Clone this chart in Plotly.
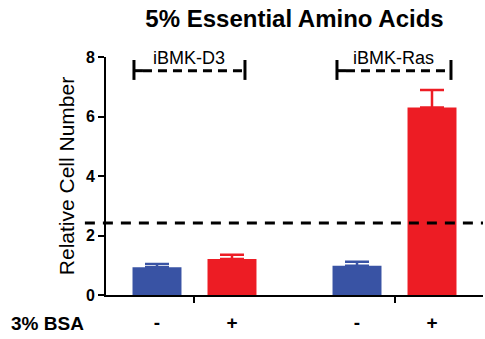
import plotly.graph_objects as go

# ---- data ----
groups = ["iBMK-D3", "iBMK-Ras"]
bsa_labels = ["-", "+", "-", "+"]
bsa_minus_values = [0.93, 0.985]       # iBMK-D3, iBMK-Ras without BSA
bsa_minus_err = [0.11, 0.135]
bsa_plus_values = [1.21, 6.30]         # iBMK-D3, iBMK-Ras with 3% BSA
bsa_plus_err = [0.145, 0.59]
threshold = 2.42
y_ticks = [0, 2, 4, 6, 8]

# ---- layout positions ----
minus_x = [1.0, 3.667]
plus_x = [2.0, 4.667]
bar_x = [minus_x[0], plus_x[0], minus_x[1], plus_x[1]]
group_centers = [(m + p) / 2 for m, p in zip(minus_x, plus_x)]
bracket_x = [[0.693, 2.173], [3.40, 4.92]]
bracket_y, bracket_lo, bracket_hi, label_y = 7.54, 7.23, 7.9, 7.97

BLUE = "#3953A4"
RED = "#ED1C24"
FONT = "Liberation Sans, Arial, sans-serif"

fig = go.Figure()
fig.add_trace(go.Bar(
    x=minus_x, y=bsa_minus_values, width=0.653,
    marker=dict(color=BLUE, line=dict(width=0)),
    error_y=dict(type="data", array=bsa_minus_err, symmetric=False,
                 arrayminus=[0, 0], color=BLUE, thickness=2.5, width=12),
    showlegend=False, hoverinfo="skip",
))
fig.add_trace(go.Bar(
    x=plus_x, y=bsa_plus_values, width=0.653,
    marker=dict(color=RED, line=dict(width=0)),
    error_y=dict(type="data", array=bsa_plus_err, symmetric=False,
                 arrayminus=[0, 0], color=RED, thickness=2.5, width=12),
    showlegend=False, hoverinfo="skip",
))

shapes = []
# group brackets
for (x0, x1) in bracket_x:
    shapes.append(dict(type="line", xref="x", yref="y", x0=x0 + 0.12, x1=x1,
                       y0=bracket_y, y1=bracket_y,
                       line=dict(color="black", width=3, dash="9px,6px")))
    shapes.append(dict(type="line", xref="x", yref="y", x0=x0, x1=x0 + 0.12,
                       y0=bracket_y, y1=bracket_y,
                       line=dict(color="black", width=3)))
    for xv in (x0, x1):
        shapes.append(dict(type="line", xref="x", yref="y", x0=xv, x1=xv,
                           y0=bracket_lo, y1=bracket_hi,
                           line=dict(color="black", width=3)))
# threshold dashed line
shapes.append(dict(type="line", xref="paper", yref="y", x0=-0.056, x1=1.0,
                   y0=threshold, y1=threshold, layer="above",
                   line=dict(color="black", width=3, dash="10px,8px")))

annotations = []
for g, (x0, x1) in zip(groups, bracket_x):
    annotations.append(dict(text=g, x=(x0 + x1) / 2, y=label_y, xref="x", yref="y",
                            showarrow=False, yanchor="middle",
                            font=dict(family=FONT, size=18, color="black")))
annotations.append(dict(text="3% BSA", x=-0.258, y=-0.118, xref="paper", yref="paper",
                        xanchor="left", yanchor="middle", showarrow=False,
                        font=dict(family=FONT, size=19, color="black", weight="bold")))

fig.update_layout(
    width=485, height=339,
    margin=dict(l=106, r=2, t=57, b=44, autoexpand=False),
    paper_bgcolor="white", plot_bgcolor="white",
    barmode="overlay",
    font=dict(family=FONT, color="black"),
    title=dict(text="<b>5% Essential Amino Acids</b>", x=0.5, xref="paper",
               xanchor="center", y=1 - 19 / 339, yanchor="middle",
               font=dict(family=FONT, size=24, color="black")),
    shapes=shapes,
    annotations=annotations,
    xaxis=dict(range=[0.32, 5.347], tickvals=bar_x, ticktext=bsa_labels,
               ticks="", showline=True, linecolor="black", linewidth=2,
               showgrid=False, zeroline=False, ticklabelstandoff=9,
               automargin=False,
               tickfont=dict(family=FONT, size=19, color="black", weight="bold"),
               minor=dict(tickvals=group_centers, ticks="outside", ticklen=6,
                          tickwidth=2, tickcolor="black")),
    yaxis=dict(range=[0, 8], tickvals=y_ticks, ticks="outside", ticklen=6,
               tickwidth=2, tickcolor="black", showline=True, linecolor="black",
               linewidth=2, showgrid=False, zeroline=False, automargin=False,
               tickfont=dict(family=FONT, size=16, color="black", weight="bold"),
               title=dict(text="Relative Cell Number", standoff=6,
                          font=dict(family=FONT, size=21, color="black"))),
)

fig.write_html("out.html", config={"displayModeBar": False},
               post_script="document.body.style.margin='0';document.body.style.overflow='hidden';")
